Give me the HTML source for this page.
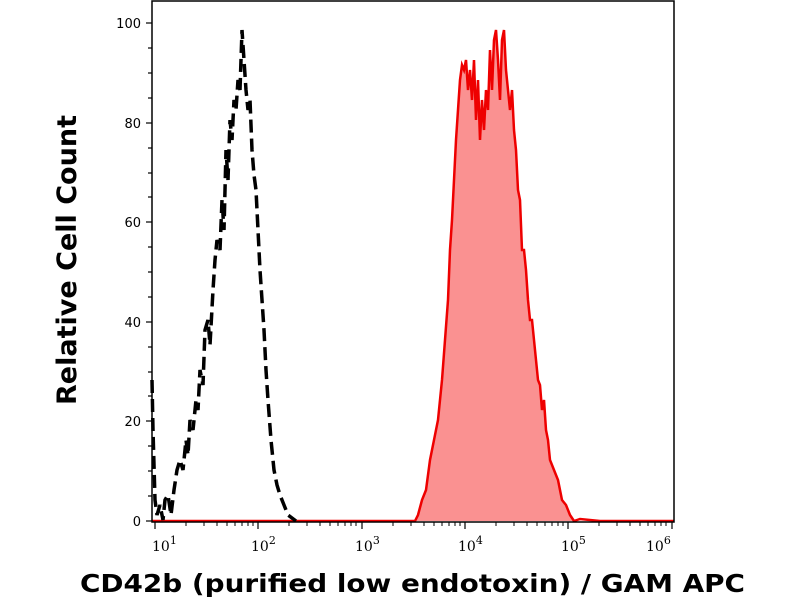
<!DOCTYPE html>
<html><head><style>body{margin:0;background:#fff}svg{display:block}</style></head><body>
<svg width="800" height="600" viewBox="0 0 800 600" xmlns="http://www.w3.org/2000/svg">
<rect width="800" height="600" fill="#fff"/>
<polygon fill="#fa9191" points="400,521 415,521 418,515 422,500 426,490 430,460 434,440 438,420 442,380 445,340 448,300 450,250 452,220 454,180 456,140 458,110 460,80 462,65 464,70 466,60 468,90 470,70 472,100 474,60 476,120 478,80 480,140 482,100 484,130 486,90 488,110 490,50 492,90 494,40 496,30 498,60 500,100 502,40 504,30 506,70 508,90 510,110 512,90 514,130 516,150 518,190 520,200 522,250 524,250 526,270 528,300 530,320 532,320 534,340 536,360 538,380 540,385 542,410 544,400 546,430 548,440 550,460 554,470 558,480 562,500 566,505 570,515 574,521 400,521"/>
<polyline fill="none" stroke="#e00" stroke-width="2.5" points="152,521 415,521 418,515 422,500 426,490 430,460 434,440 438,420 442,380 445,340 448,300 450,250 452,220 454,180 456,140 458,110 460,80 462,65 464,70 466,60 468,90 470,70 472,100 474,60 476,120 478,80 480,140 482,100 484,130 486,90 488,110 490,50 492,90 494,40 496,30 498,60 500,100 502,40 504,30 506,70 508,90 510,110 512,90 514,130 516,150 518,190 520,200 522,250 524,250 526,270 528,300 530,320 532,320 534,340 536,360 538,380 540,385 542,410 544,400 546,430 548,440 550,460 554,470 558,480 562,500 566,505 570,515 574,521 580,519 600,521 674,521"/>
<polyline fill="none" stroke="#000" stroke-width="3.5" stroke-dasharray="13,6" points="152,380 153,430 155,500 157,515 160,505 163,520 165,500 168,495 171,515 174,490 177,470 180,460 183,470 186,440 188,455 190,420 193,430 196,400 198,410 200,370 203,385 205,330 208,320 210,345 213,290 215,260 217,240 220,250 222,200 224,230 226,150 228,180 230,120 232,140 234,100 236,110 238,80 240,90 242,30 244,60 246,90 248,110 250,100 252,150 254,175 256,190 258,230 260,270 262,300 264,330 266,370 268,400 271,440 274,470 277,485 280,495 284,505 288,515 292,518 296,521"/>
<rect x="152" y="1" width="522" height="521" fill="none" stroke="#000" stroke-width="1.5"/>
<g stroke="#000" stroke-width="1.2">
<line x1="146" y1="23" x2="152" y2="23"/><line x1="146" y1="123" x2="152" y2="123"/><line x1="146" y1="222" x2="152" y2="222"/><line x1="146" y1="322" x2="152" y2="322"/><line x1="146" y1="421" x2="152" y2="421"/><line x1="146" y1="521" x2="152" y2="521"/>
<line x1="148" y1="48" x2="152" y2="48"/><line x1="148" y1="73" x2="152" y2="73"/><line x1="148" y1="98" x2="152" y2="98"/><line x1="148" y1="148" x2="152" y2="148"/><line x1="148" y1="173" x2="152" y2="173"/><line x1="148" y1="197" x2="152" y2="197"/><line x1="148" y1="247" x2="152" y2="247"/><line x1="148" y1="272" x2="152" y2="272"/><line x1="148" y1="297" x2="152" y2="297"/><line x1="148" y1="347" x2="152" y2="347"/><line x1="148" y1="372" x2="152" y2="372"/><line x1="148" y1="396" x2="152" y2="396"/><line x1="148" y1="446" x2="152" y2="446"/><line x1="148" y1="471" x2="152" y2="471"/><line x1="148" y1="496" x2="152" y2="496"/>
<line x1="155" y1="522" x2="155" y2="529"/><line x1="258" y1="522" x2="258" y2="529"/><line x1="362" y1="522" x2="362" y2="529"/><line x1="465" y1="522" x2="465" y2="529"/><line x1="568" y1="522" x2="568" y2="529"/><line x1="672" y1="522" x2="672" y2="529"/>
</g>
<g stroke="#000" stroke-width="1">
<path d="M186,522v4M204,522v4M217,522v4M227,522v4M235,522v4M242,522v4M248,522v4M253,522v4M289,522v4M307,522v4M320,522v4M330,522v4M338,522v4M345,522v4M351,522v4M356,522v4M393,522v4M411,522v4M424,522v4M434,522v4M442,522v4M449,522v4M455,522v4M460,522v4M496,522v4M514,522v4M527,522v4M537,522v4M545,522v4M552,522v4M558,522v4M563,522v4M599,522v4M617,522v4M630,522v4M640,522v4M648,522v4M655,522v4M661,522v4M666,522v4"/>
</g>
<g font-family="DejaVu Sans, sans-serif" font-size="13" fill="#000" text-anchor="end">
<text x="141" y="28">100</text><text x="141" y="128">80</text><text x="141" y="227">60</text><text x="141" y="327">40</text><text x="141" y="426">20</text><text x="141" y="526">0</text>
</g>
<g font-family="DejaVu Serif, serif" font-size="14" fill="#000">
<text x="152" y="551">10<tspan dy="-7" font-size="11">1</tspan></text>
<text x="251" y="551">10<tspan dy="-7" font-size="11">2</tspan></text>
<text x="355" y="551">10<tspan dy="-7" font-size="11">3</tspan></text>
<text x="458" y="551">10<tspan dy="-7" font-size="11">4</tspan></text>
<text x="561" y="551">10<tspan dy="-7" font-size="11">5</tspan></text>
<text x="646" y="551">10<tspan dy="-7" font-size="11">6</tspan></text>
</g>
<text x="80" y="592" textLength="665" lengthAdjust="spacingAndGlyphs" font-family="DejaVu Sans, sans-serif" font-weight="bold" font-size="25">CD42b (purified low endotoxin) / GAM APC</text>
<text transform="translate(76,405) rotate(-90)" textLength="290" lengthAdjust="spacingAndGlyphs" font-family="DejaVu Sans, sans-serif" font-weight="bold" font-size="27">Relative Cell Count</text>
</svg>
</body></html>
